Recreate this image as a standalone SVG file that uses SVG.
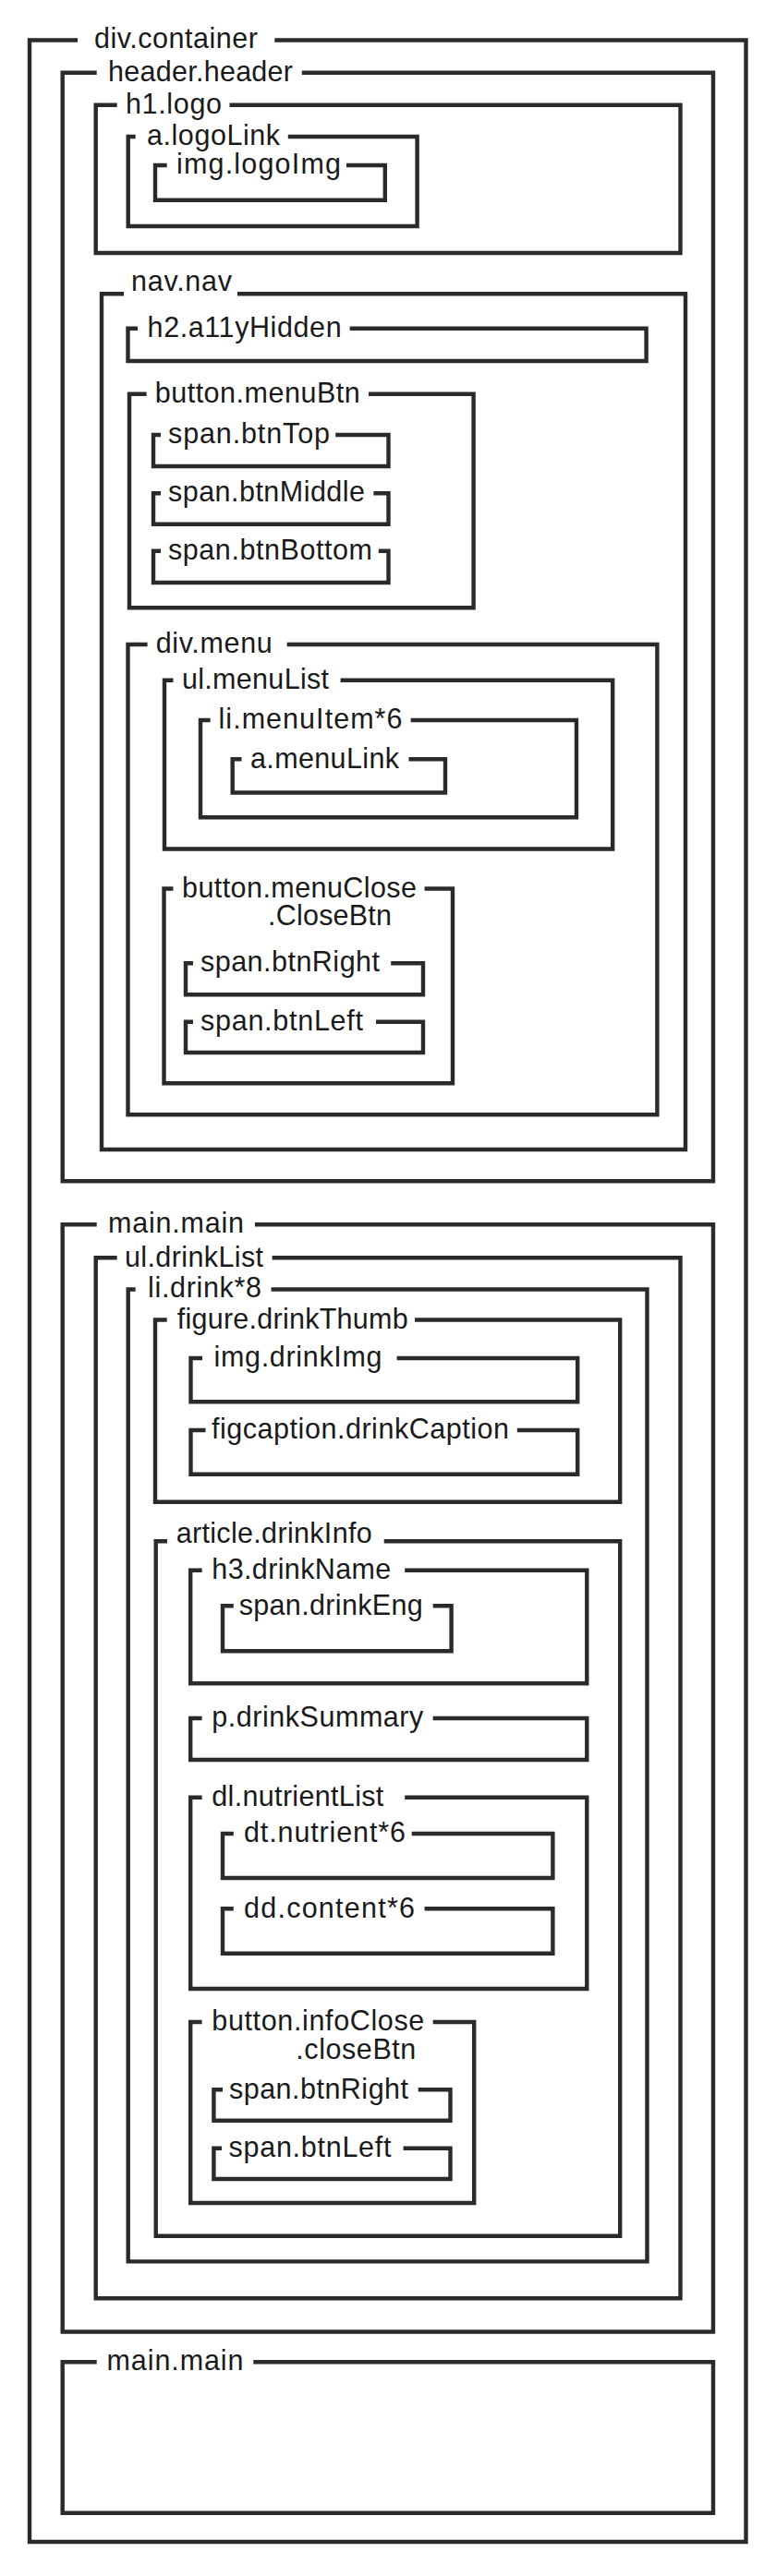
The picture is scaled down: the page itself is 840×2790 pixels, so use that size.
<svg xmlns="http://www.w3.org/2000/svg" width="840" height="2790" viewBox="0 0 840 2790">
<style>
.box{fill:none;stroke:#2a2a2a;stroke-width:4.4;stroke-linejoin:miter;stroke-linecap:butt}
.lbl{font-family:"Liberation Sans",Arial,sans-serif;font-size:30.5px;fill:#1a1a1a}
</style>
<rect x="0" y="0" width="840" height="2790" fill="#ffffff"/>
<g id="div-container"><path class="box" d="M297.3,43.5 H807.5 V2753 H32 V43.5 H84"/><text class="lbl" x="102" y="52" textLength="177">div.container</text></g>
<g id="header-header"><path class="box" d="M326.8,78.8 H772 V1279.3 H67.7 V78.8 H104.7"/><text class="lbl" x="117" y="88" textLength="200">header.header</text></g>
<g id="h1-logo"><path class="box" d="M248.5,113.8 H736.5 V274 H103.7 V113.8 H126.7"/><text class="lbl" x="136" y="123" textLength="104">h1.logo</text></g>
<g id="a-logoLink"><path class="box" d="M311.8,148 H451.6 V245 H138.7 V148 H146.7"/><text class="lbl" x="159" y="157" textLength="144">a.logoLink</text></g>
<g id="img-logoImg"><path class="box" d="M375,179 H416.8 V216.7 H168 V179 H180.7"/><text class="lbl" x="191" y="188" textLength="178">img.logoImg</text></g>
<g id="nav-nav"><path class="box" d="M257,318.3 H742 V1245 H110 V318.3 H134"/><text class="lbl" x="142" y="315" textLength="109">nav.nav</text></g>
<g id="h2-a11yHidden"><path class="box" d="M378.7,355.7 H699.6 V391 H138.5 V355.7 H149"/><text class="lbl" x="159.6" y="365" textLength="210">h2.a11yHidden</text></g>
<g id="button-menuBtn"><path class="box" d="M399,426.7 H512.6 V658.3 H140 V426.7 H158.6"/><text class="lbl" x="167.7" y="436" textLength="222">button.menuBtn</text></g>
<g id="span-btnTop"><path class="box" d="M363.2,471 H420.5 V505 H166 V471 H174"/><text class="lbl" x="182" y="480" textLength="175">span.btnTop</text></g>
<g id="span-btnMiddle"><path class="box" d="M404.4,534.3 H420.5 V567.7 H166 V534.3 H174"/><text class="lbl" x="182" y="543" textLength="213">span.btnMiddle</text></g>
<g id="span-btnBottom"><path class="box" d="M409.8,596.7 H420.5 V631 H166 V596.7 H174"/><text class="lbl" x="182" y="606" textLength="221">span.btnBottom</text></g>
<g id="div-menu"><path class="box" d="M310.7,698 H711.4 V1207.3 H138.5 V698 H159.6"/><text class="lbl" x="168.7" y="707" textLength="126">div.menu</text></g>
<g id="ul-menuList"><path class="box" d="M368.6,736.7 H663.2 V919.5 H178 V736.7 H187.5"/><text class="lbl" x="197" y="746" textLength="159">ul.menuList</text></g>
<g id="li-menuItem"><path class="box" d="M444.6,780 H624 V885.3 H217 V780 H227.7"/><text class="lbl" x="236.5" y="789" textLength="199">li.menuItem*6</text></g>
<g id="a-menuLink"><path class="box" d="M442.5,822.3 H482 V858.5 H251.7 V822.3 H261.5"/><text class="lbl" x="271" y="831.5" textLength="161">a.menuLink</text></g>
<g id="button-menuClose"><path class="box" d="M459.6,962.5 H490 V1173.3 H177.5 V962.5 H187.5"/><text class="lbl" x="197" y="971.5" textLength="254">button.menuClose</text><text class="lbl" x="290" y="1001.5" textLength="134">.CloseBtn</text></g>
<g id="span-btnRight-1"><path class="box" d="M423.2,1043.3 H458 V1077.3 H201 V1043.3 H209"/><text class="lbl" x="217" y="1052" textLength="194">span.btnRight</text></g>
<g id="span-btnLeft-1"><path class="box" d="M407,1106.7 H458 V1140 H201 V1106.7 H209"/><text class="lbl" x="217" y="1115.5" textLength="176">span.btnLeft</text></g>
<g id="main-main-1"><path class="box" d="M275.9,1326.3 H772 V2525.5 H67.7 V1326.3 H104.7"/><text class="lbl" x="117" y="1335" textLength="147">main.main</text></g>
<g id="ul-drinkList"><path class="box" d="M294.6,1362.3 H736.5 V2489.3 H103.7 V1362.3 H126.7"/><text class="lbl" x="135" y="1371.5" textLength="150">ul.drinkList</text></g>
<g id="li-drink"><path class="box" d="M293.6,1396.5 H700.5 V2449.4 H138.7 V1396.5 H146.7"/><text class="lbl" x="160" y="1405" textLength="123">li.drink*8</text></g>
<g id="figure-drinkThumb"><path class="box" d="M449,1429.5 H671.2 V1626.7 H168 V1429.5 H180.7"/><text class="lbl" x="191.7" y="1439" textLength="250">figure.drinkThumb</text></g>
<g id="img-drinkImg"><path class="box" d="M429.6,1471 H625.2 V1518.2 H206.5 V1471 H219"/><text class="lbl" x="231.5" y="1480" textLength="182">img.drinkImg</text></g>
<g id="figcaption-drinkCaption"><path class="box" d="M559.8,1549 H625.2 V1596.7 H206.5 V1549 H222.5"/><text class="lbl" x="229" y="1558" textLength="322">figcaption.drinkCaption</text></g>
<g id="article-drinkInfo"><path class="box" d="M415.7,1669.3 H671.2 V2421.7 H168.7 V1669.3 H181"/><text class="lbl" x="190.7" y="1671" textLength="212">article.drinkInfo</text></g>
<g id="h3-drinkName"><path class="box" d="M438.2,1700.7 H635.3 V1823.3 H206.2 V1700.7 H218.6"/><text class="lbl" x="229.3" y="1710" textLength="194">h3.drinkName</text></g>
<g id="span-drinkEng"><path class="box" d="M468.7,1739.3 H488.6 V1788.3 H241 V1739.3 H252.8"/><text class="lbl" x="258.7" y="1748.5" textLength="199">span.drinkEng</text></g>
<g id="p-drinkSummary"><path class="box" d="M468.7,1861 H635.3 V1906 H206.2 V1861 H218.6"/><text class="lbl" x="229.3" y="1870" textLength="229">p.drinkSummary</text></g>
<g id="dl-nutrientList"><path class="box" d="M438.2,1946.7 H635.3 V2154 H206.2 V1946.7 H218.6"/><text class="lbl" x="229.3" y="1956" textLength="186">dl.nutrientList</text></g>
<g id="dt-nutrient"><path class="box" d="M445.7,1986 H598.4 V2034 H241 V1986 H252.8"/><text class="lbl" x="264" y="1995" textLength="175">dt.nutrient*6</text></g>
<g id="dd-content"><path class="box" d="M459.6,2067.3 H598.4 V2115.7 H241 V2067.3 H252.8"/><text class="lbl" x="264" y="2076.5" textLength="185">dd.content*6</text></g>
<g id="button-infoClose"><path class="box" d="M468.7,2190 H513.2 V2386 H206.2 V2190 H218.6"/><text class="lbl" x="229.3" y="2199" textLength="230">button.infoClose</text><text class="lbl" x="320.3" y="2229.5" textLength="130">.closeBtn</text></g>
<g id="span-btnRight-2"><path class="box" d="M452.7,2263.3 H487.5 V2296.7 H231.4 V2263.3 H241"/><text class="lbl" x="248" y="2272.5" textLength="194">span.btnRight</text></g>
<g id="span-btnLeft-2"><path class="box" d="M436.6,2326.7 H487.5 V2360 H231.4 V2326.7 H240"/><text class="lbl" x="247.5" y="2336" textLength="176">span.btnLeft</text></g>
<g id="main-main-2"><path class="box" d="M274.3,2558.3 H772 V2721.7 H67.7 V2558.3 H104.7"/><text class="lbl" x="115.5" y="2567" textLength="148">main.main</text></g>
<g id="connectors"></g>
</svg>
